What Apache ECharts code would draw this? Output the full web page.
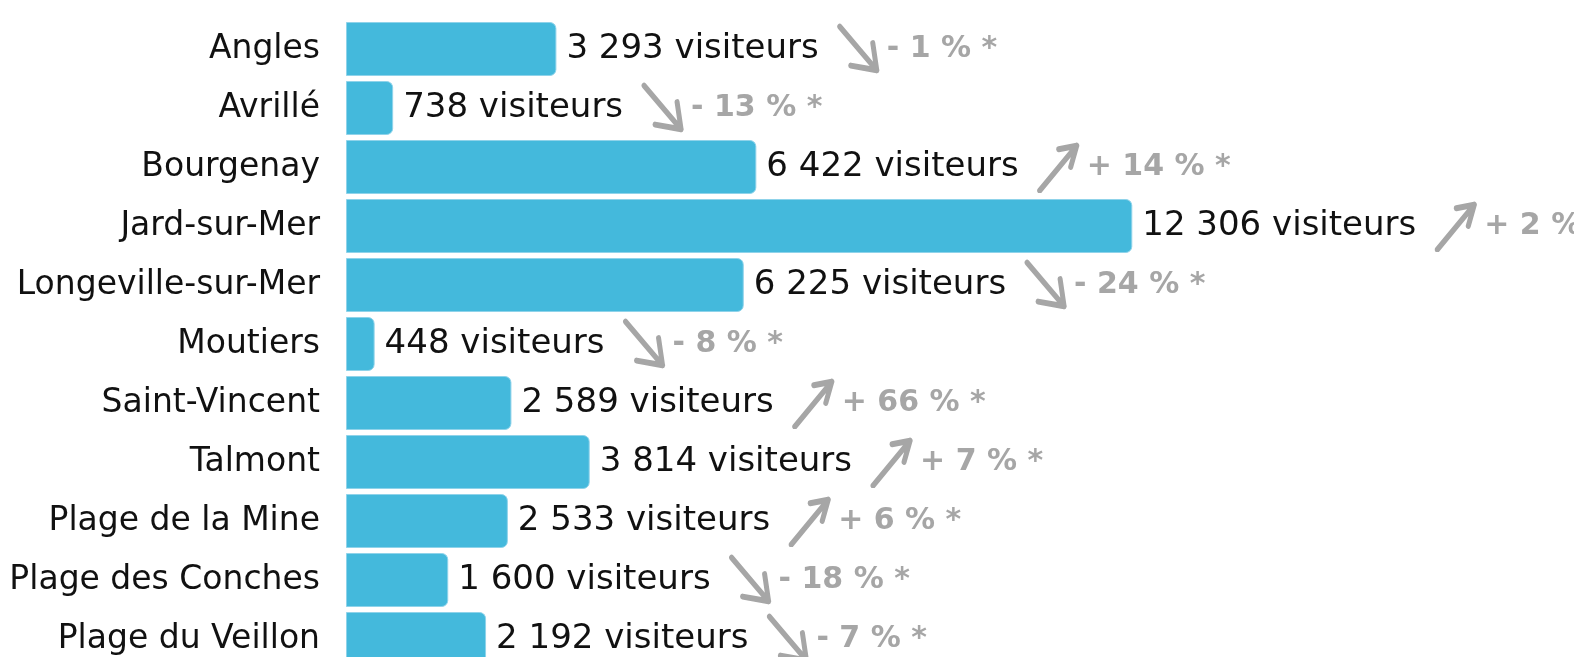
<!DOCTYPE html>
<html>
<head>
<meta charset="utf-8">
<script src="https://cdn.jsdelivr.net/npm/echarts@6/dist/echarts.min.js"></script>
<style>
  html, body { margin: 0; padding: 0; background: #fff; }
  #chart { width: 1574px; height: 657px; }
</style>
</head>
<body>
<div id="chart"></div>
<script>
const communes = ['Angles', 'Avrillé', 'Bourgenay', 'Jard-sur-Mer', 'Longeville-sur-Mer', 'Moutiers',
  'Saint-Vincent', 'Talmont', 'Plage de la Mine', 'Plage des Conches', 'Plage du Veillon'];
const visiteurs = [3293, 738, 6422, 12306, 6225, 448, 2589, 3814, 2533, 1600, 2192];
const evolution = [-1, -13, 14, 2, -24, -8, 66, 7, 6, -18, -7];

const grey = '#a6a6a6';
const font = 'DejaVu Sans';

// hand drawn style arrows
function arrowSvg(up) {
  const p = up
    ? '<path d="M3 42 L40 4 M22 7 L40 4 L34 22"/>'
    : '<path d="M3 3 L40 40 M14 36 L40 40 L36 17"/>';
  const svg = '<svg xmlns="http://www.w3.org/2000/svg" width="44" height="44" viewBox="0 0 44 44">' +
    '<g fill="none" stroke="' + grey + '" stroke-width="5" stroke-linecap="round" stroke-linejoin="round">' +
    p + '</g></svg>';
  return 'data:image/svg+xml;charset=utf-8,' + encodeURIComponent(svg);
}

function fmt(n) {
  return String(n).replace(/\B(?=(\d{3})+(?!\d))/g, ' ');
}

const chart = echarts.init(document.getElementById('chart'));

chart.setOption({
  animation: false,
  grid: { left: 346, top: 19.5, width: 1214, height: 649, containLabel: false, outerBoundsMode: 'none' },
  xAxis: { type: 'value', min: 0, max: 19000, show: false },
  yAxis: {
    type: 'category',
    data: communes,
    inverse: true,
    axisLine: { show: false },
    axisTick: { show: false },
    axisLabel: { color: '#111', fontFamily: font, fontSize: 33, margin: 26 }
  },
  series: [{
    type: 'bar',
    data: visiteurs,
    barWidth: 54,
    itemStyle: {
      color: '#44b9dc',
      borderColor: '#8fd3ea',
      borderWidth: 1,
      borderRadius: [0, 6, 6, 0]
    },
    label: {
      show: true,
      position: 'right',
      distance: 10,
      formatter: (p) => {
        const e = evolution[p.dataIndex];
        const sign = e >= 0 ? '+ ' : '- ';
        return '{v|' + fmt(p.value) + ' visiteurs}{' + (e >= 0 ? 'up' : 'down') + '|}{p|' + sign + Math.abs(e) + ' % *}';
      },
      rich: {
        v: { color: '#111', fontFamily: font, fontSize: 34, padding: [0, 18, 0, 0] },
        up: { width: 44, height: 44, backgroundColor: { image: arrowSvg(true) }, padding: [0, 0, 8, 0] },
        down: { width: 44, height: 44, backgroundColor: { image: arrowSvg(false) }, padding: [0, 0, 8, 0] },
        p: { color: grey, fontFamily: font, fontSize: 30, fontWeight: 'bold', padding: [0, 0, 0, 6] }
      }
    }
  }]
});
</script>
</body>
</html>
